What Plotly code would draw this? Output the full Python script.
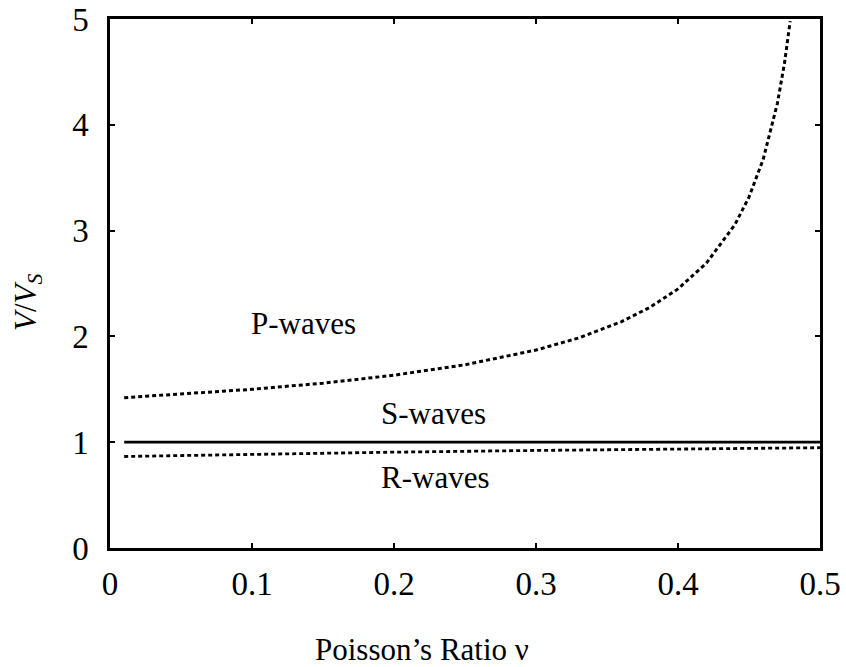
import plotly.graph_objects as go

# Poisson's ratio samples and velocity ratios
nu_p = [0.01, 0.05, 0.10, 0.15, 0.20, 0.25, 0.30, 0.33, 0.36, 0.38, 0.40,
        0.42, 0.44, 0.45, 0.46, 0.47, 0.475, 0.479]
vp_vs = [1.421, 1.453, 1.500, 1.558, 1.633, 1.732, 1.871, 1.985, 2.138, 2.273,
         2.449, 2.693, 3.055, 3.317, 3.674, 4.203, 4.583, 4.98]

nu_s = [0.01, 0.5]
vs_vs = [1.0, 1.0]

nu_r = [0.01, 0.1, 0.2, 0.3, 0.4, 0.5]
vr_vs = [0.865, 0.887, 0.906, 0.922, 0.936, 0.948]

x_ticks = [0, 0.1, 0.2, 0.3, 0.4, 0.5]
x_tick_labels = ["0", "0.1", "0.2", "0.3", "0.4", "0.5"]
y_ticks = [0, 1, 2, 3, 4, 5]

labels = [("P-waves", 0.136, 2.12), ("S-waves", 0.228, 1.27), ("R-waves", 0.229, 0.67)]
x_title = "Poisson\u2019s Ratio \u03bd"
y_title = "<i>V</i>/<i>V<sub>S</sub></i>"

FONT = "Liberation Serif, Times New Roman, serif"

fig = go.Figure()
fig.add_trace(go.Scatter(x=nu_p, y=vp_vs, mode="lines",
                         line=dict(color="black", width=3, dash="4px,3px"),
                         showlegend=False))
fig.add_trace(go.Scatter(x=nu_s, y=vs_vs, mode="lines",
                         line=dict(color="black", width=2.7),
                         showlegend=False))
fig.add_trace(go.Scatter(x=nu_r, y=vr_vs, mode="lines",
                         line=dict(color="black", width=2.8, dash="4px,3px"),
                         showlegend=False))

for txt, x, y in labels:
    fig.add_annotation(x=x, y=y, text=txt, showarrow=False,
                       font=dict(family=FONT, size=31, color="black"))

fig.add_annotation(xref="paper", yref="paper", x=0.44, y=-0.191,
                   text=x_title, showarrow=False, xanchor="center", yanchor="middle",
                   font=dict(family=FONT, size=31, color="black"))
fig.add_annotation(xref="paper", yref="paper", x=-0.1155, y=0.465,
                   text=y_title, showarrow=False, textangle=-90,
                   xanchor="center", yanchor="middle",
                   font=dict(family=FONT, size=31, color="black"))

fig.update_layout(
    width=846, height=667,
    margin=dict(l=110, r=26, t=19, b=119, autoexpand=False),
    paper_bgcolor="white", plot_bgcolor="white",
    font=dict(family=FONT, size=32, color="black"),
)
fig.update_xaxes(range=[0, 0.5], tickvals=x_ticks, ticktext=x_tick_labels,
                 ticks="inside", ticklen=5, tickwidth=2, tickcolor="black",
                 showline=True, linewidth=2.5, linecolor="black", mirror="ticks",
                 showgrid=False, zeroline=False, automargin=False,
                 tickfont=dict(family=FONT, size=33),
                 ticklabelstandoff=5)
fig.update_yaxes(range=[0, 5], tickvals=y_ticks,
                 ticks="inside", ticklen=5, tickwidth=2, tickcolor="black",
                 showline=True, linewidth=2.5, linecolor="black", mirror="ticks",
                 showgrid=False, zeroline=False, automargin=False,
                 tickfont=dict(family=FONT, size=33),
                 ticklabelstandoff=12)

fig.write_html("out.html")
